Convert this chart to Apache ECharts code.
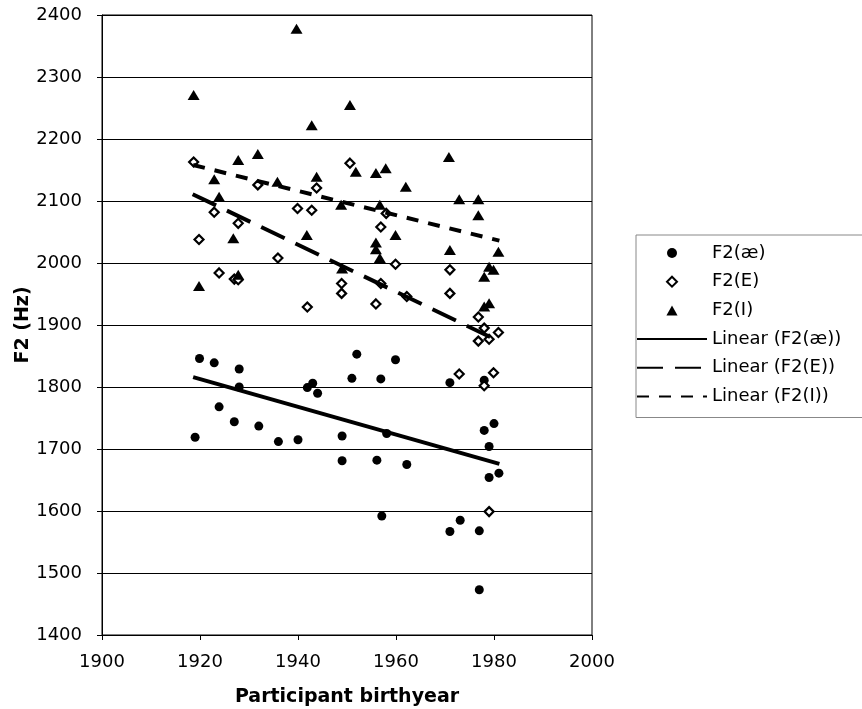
<!DOCTYPE html>
<html>
<head>
<meta charset="utf-8">
<script src="https://cdn.jsdelivr.net/npm/echarts@6/dist/echarts.min.js"></script>
<style>html,body{margin:0;padding:0;background:#fff}#c{width:862px;height:709px}</style>
</head>
<body>
<div id="c"></div>
<script>
var xTicks = [1900, 1920, 1940, 1960, 1980, 2000];
var yTicks = [1400, 1500, 1600, 1700, 1800, 1900, 2000, 2100, 2200, 2300, 2400];

var seriesNames = ['F2(æ)', 'F2(E)', 'F2(I)', 'Linear (F2(æ))', 'Linear (F2(E))', 'Linear (F2(I))'];

var ae = [
  [1919.9,1846],[1922.9,1839],[1928.0,1829],[1928.0,1800],[1923.9,1768],[1927.0,1744],
  [1932.0,1737],[1919.0,1719],[1936.0,1712],[1940.0,1715],[1941.9,1799],[1943.0,1806],
  [1944.0,1790],[1949.0,1721],[1949.0,1681],[1951.0,1814],[1952.0,1853],[1959.9,1844],
  [1956.9,1813],[1971.0,1807],[1978.0,1811],[1978.0,1730],[1980.0,1741],[1979.0,1704],
  [1958.1,1725],[1956.1,1682],[1962.2,1675],[1979.0,1654],[1981.0,1661],[1957.1,1592],
  [1973.1,1585],[1971.0,1567],[1977.0,1568],[1977.0,1473]
];

var eps = [
  [1918.7,2163],[1931.8,2126],[1943.8,2121],[1939.9,2088],[1942.8,2085],[1922.9,2082],
  [1950.6,2161],[1927.8,2064],[1919.8,2038],[1935.9,2008],[1923.9,1984],[1927.0,1974],
  [1927.8,1973],[1948.9,1967],[1948.9,1951],[1941.9,1929],[1958.0,2080],[1956.9,2058],
  [1959.9,1998],[1956.9,1967],[1962.2,1946],[1955.9,1934],[1971.0,1989],[1971.0,1951],
  [1976.8,1913],[1978.0,1895],[1980.9,1888],[1976.8,1874],[1979.0,1877],[1972.9,1821],
  [1979.9,1823],[1978.0,1802],[1979.0,1599]
];

var ih = [
  [1918.7,2271],[1939.7,2378],[1942.8,2222],[1950.6,2255],[1927.8,2166],[1931.8,2176],
  [1922.9,2135],[1935.8,2131],[1943.8,2139],[1923.9,2107],[1948.8,2094],[1926.8,2040],
  [1941.8,2045],[1949.0,1991],[1919.8,1963],[1927.8,1981],[1951.8,2147],[1955.9,2145],
  [1957.9,2153],[1962.0,2123],[1970.8,2171],[1972.9,2103],[1976.8,2103],[1976.8,2077],
  [1956.7,2094],[1959.9,2045],[1955.9,2033],[1955.9,2022],[1956.7,2008],[1971.0,2021],
  [1980.9,2018],[1979.0,1994],[1979.9,1989],[1978.0,1978],[1979.0,1935],[1978.0,1930]
];

var trendAe = [[1918.6,1816],[1981.1,1676]];
var trendE  = [[1918.5,2111],[1981.0,1874]];
var trendI  = [[1918.6,2158],[1981.1,2036]];

var FONT = 'DejaVu Sans';
var chart = echarts.init(document.getElementById('c'), null, {renderer: 'canvas'});

var hiddenItem = {color: 'rgba(0,0,0,0)', borderWidth: 0, opacity: 0};

chart.setOption({
  animation: false,
  backgroundColor: '#fff',
  textStyle: {fontFamily: FONT, color: '#000'},
  grid: {left: 102, right: 270, top: 15, bottom: 74, show: true, borderColor: '#000', borderWidth: 1,
         backgroundColor: 'transparent', containLabel: false, outerBoundsMode: 'none'},
  xAxis: {
    type: 'value', min: xTicks[0], max: xTicks[xTicks.length - 1], interval: 20,
    name: 'Participant birthyear', nameLocation: 'middle', nameGap: 53, nameMoveOverlap: false,
    nameTextStyle: {fontFamily: FONT, fontSize: 19, fontWeight: 'bold', color: '#000'},
    axisLine: {lineStyle: {color: '#000', width: 1}},
    axisTick: {show: true, length: 5, lineStyle: {color: '#000'}},
    axisLabel: {fontFamily: FONT, fontSize: 18, color: '#000', margin: 18, formatter: function (v) { return String(v); }},
    splitLine: {show: false}
  },
  yAxis: {
    type: 'value', min: yTicks[0], max: yTicks[yTicks.length - 1], interval: 100,
    name: 'F2 (Hz)', nameLocation: 'middle', nameGap: 69, nameMoveOverlap: false,
    nameTextStyle: {fontFamily: FONT, fontSize: 19, fontWeight: 'bold', color: '#000'},
    axisLine: {show: true, lineStyle: {color: '#000', width: 1}},
    axisTick: {show: true, length: 5, lineStyle: {color: '#000'}},
    axisLabel: {fontFamily: FONT, fontSize: 18, color: '#000', margin: 20, formatter: function (v) { return String(v); }},
    splitLine: {show: true, lineStyle: {color: '#000', width: 1}}
  },
  legend: {
    orient: 'vertical', left: 636, top: 235,
    padding: [9, 30, 12, 0],
    itemWidth: 70, itemHeight: 10, itemGap: 10.7,
    symbolKeepAspect: true,
    borderColor: '#888', borderWidth: 1,
    textStyle: {fontFamily: FONT, fontSize: 18, color: '#000'},
    data: [
      {name: seriesNames[0], icon: 'circle'},
      {name: seriesNames[1], icon: 'path://M5,0 L10,5 L5,10 L0,5 Z'},
      {name: seriesNames[2], icon: 'path://M5,0 L10,9 L0,9 Z'},
      {name: seriesNames[3]},
      {name: seriesNames[4]},
      {name: seriesNames[5]}
    ]
  },
  series: [
    {name: seriesNames[0], type: 'scatter', data: ae, symbol: 'circle', symbolSize: 9,
     itemStyle: {color: '#000', opacity: 1}},
    {name: seriesNames[1], type: 'scatter', data: eps, symbol: 'diamond', symbolSize: 9,
     itemStyle: {color: '#fff', borderColor: '#000', borderWidth: 2.2, opacity: 1}},
    {name: seriesNames[2], type: 'scatter', data: ih, symbol: 'triangle', symbolSize: [12, 10],
     itemStyle: {color: '#000', opacity: 1}},
    {name: seriesNames[3], type: 'line', data: trendAe, showSymbol: false, symbol: 'none',
     itemStyle: hiddenItem, lineStyle: {color: '#000', width: 4, type: 'solid', cap: 'butt'}, z: 5},
    {name: seriesNames[4], type: 'line', data: trendE, showSymbol: false, symbol: 'none',
     itemStyle: hiddenItem, lineStyle: {color: '#000', width: 4, type: [26, 12], cap: 'butt'}, z: 5},
    {name: seriesNames[5], type: 'line', data: trendI, showSymbol: false, symbol: 'none',
     itemStyle: hiddenItem, lineStyle: {color: '#000', width: 4, type: [12, 10], cap: 'butt'}, z: 5}
  ]
});
</script>
</body>
</html>
